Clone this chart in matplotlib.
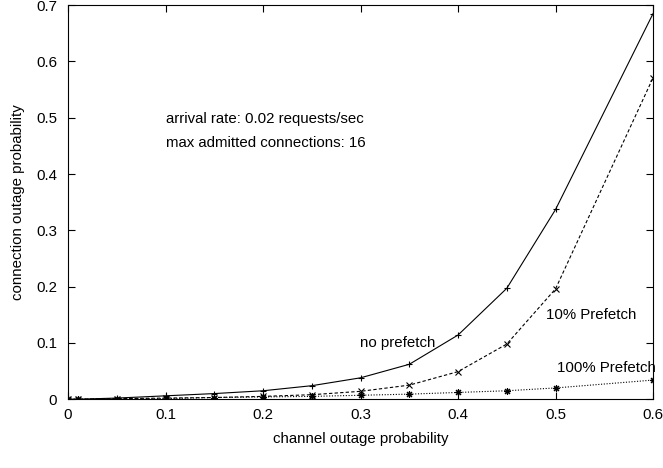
import numpy as np
import matplotlib
matplotlib.use('Agg')
import matplotlib.pyplot as plt

plt.rcParams['font.family'] = ['Liberation Sans', 'DejaVu Sans']

# channel outage probability
outage = [0, 0.01, 0.05, 0.1, 0.15, 0.2, 0.25, 0.3, 0.35, 0.4, 0.45, 0.5, 0.6]
no_prefetch = [0, 0, 0.002, 0.006, 0.010, 0.015, 0.024, 0.038, 0.062, 0.114, 0.197, 0.337, 0.685]
prefetch_10 = [0, 0, 0.001, 0.002, 0.003, 0.005, 0.008, 0.014, 0.025, 0.049, 0.098, 0.196, 0.571]
prefetch_100 = [0, 0, 0.0005, 0.001, 0.003, 0.004, 0.005, 0.007, 0.009, 0.012, 0.015, 0.020, 0.034]

fs = 10.8

fig = plt.figure(figsize=(6.63, 4.68), dpi=100)
ax = fig.add_axes([0.1026, 0.147, 0.8824, 0.842])

ax.plot(outage, no_prefetch, color='black', lw=0.8, ls='-', marker='+', ms=5, mew=0.8)
ax.plot(outage, prefetch_10, color='black', lw=0.8, ls=(0, (3, 2)), marker='x', ms=4, mew=0.8)
ax.plot(outage, prefetch_100, color='black', lw=0.8, ls=(0, (1, 1.5)), marker=(8, 2, 0), ms=5, mew=0.8)

ax.set_xlim(0, 0.6)
ax.set_ylim(0, 0.7)
ax.set_xticks([0, 0.1, 0.2, 0.3, 0.4, 0.5, 0.6])
ax.set_xticklabels(['0', '0.1', '0.2', '0.3', '0.4', '0.5', '0.6'])
ax.set_yticks([0, 0.1, 0.2, 0.3, 0.4, 0.5, 0.6, 0.7])
ax.set_yticklabels(['0', '0.1', '0.2', '0.3', '0.4', '0.5', '0.6', '0.7'])
ax.tick_params(direction='in', top=True, right=True, length=5, width=0.8, labelsize=fs)
ax.tick_params(axis='x', pad=6.5)
ax.tick_params(axis='y', pad=8)
for s in ax.spines.values():
    s.set_linewidth(0.8)

ax.set_xlabel('channel outage probability', fontsize=fs, labelpad=7)
ax.set_ylabel('connection outage probability', fontsize=fs, labelpad=8)

ax.text(0.1, 0.497, 'arrival rate: 0.02 requests/sec', fontsize=fs, va='center')
ax.text(0.1, 0.455, 'max admitted connections: 16', fontsize=fs, va='center')
ax.text(0.299, 0.100, 'no prefetch', fontsize=fs, va='center')
ax.text(0.49, 0.150, '10% Prefetch', fontsize=fs, va='center')
ax.text(0.501, 0.056, '100% Prefetch', fontsize=fs, va='center')

fig.savefig('out.png', dpi=100)
